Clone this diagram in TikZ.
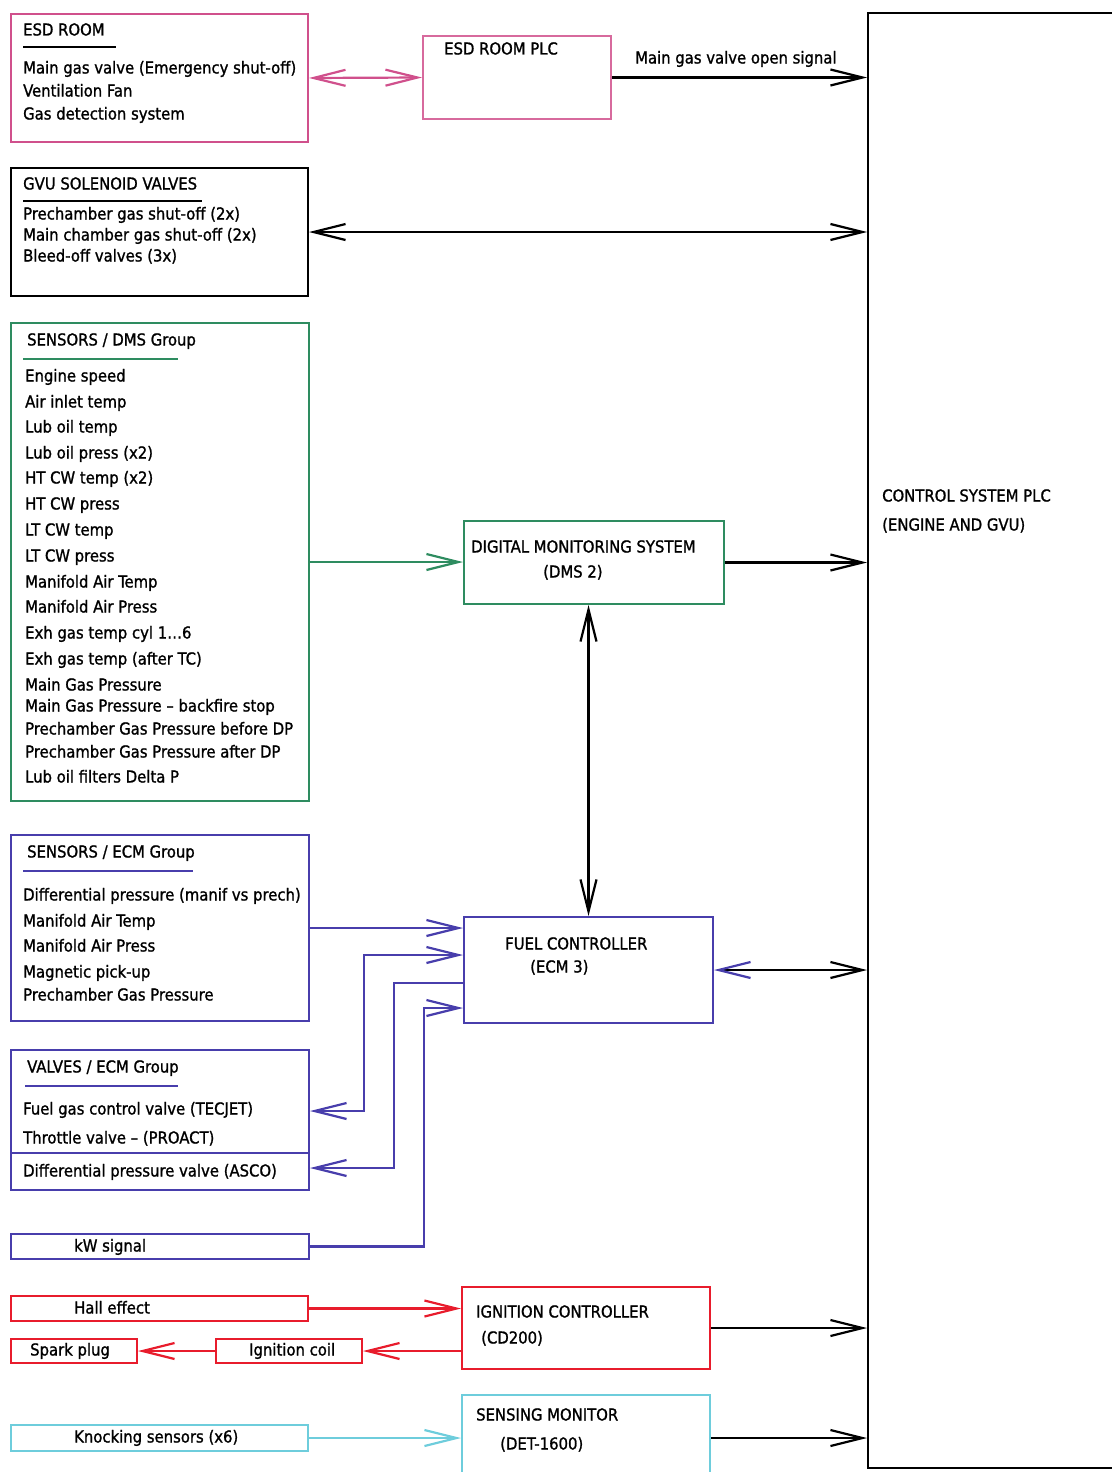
\documentclass[tikz,border=0pt]{standalone}
\usepackage{fontspec}
\setmainfont{DejaVu Sans Condensed}[FakeBold=1.2]
\usetikzlibrary{arrows.meta,calc}
\definecolor{esdc}{RGB}{208,80,140}
\definecolor{dmsc}{RGB}{46,140,96}
\definecolor{ecmc}{RGB}{72,62,172}
\definecolor{ignc}{RGB}{232,28,44}
\definecolor{knc}{RGB}{110,205,220}
\tikzset{
  bb/.tip={Straight Barb[length=32pt,width=16pt]},
  box/.style={draw, line width=2pt, anchor=north west, inner sep=0pt},
  txt/.style={anchor=west, inner sep=0pt, text height=12pt, text depth=3pt, font=\fontsize{16.5}{19}\selectfont},
  conn/.style={line width=2.2pt},
  uline/.style={line width=1.8pt},
}
\begin{document}
\begin{tikzpicture}[x=1pt,y=-1pt]
\useasboundingbox (0,0) rectangle (1111,1472);
% ---------- boxes ----------
\node[box,draw=esdc,minimum width=297pt,minimum height=128pt] (esd) at (10,13) {};
\node[box,draw=esdc!85,minimum width=188pt,minimum height=83pt] (plc) at (422,35) {};
\node[box,minimum width=297pt,minimum height=128pt] (gvu) at (10,167) {};
\node[box,draw=dmsc,minimum width=298pt,minimum height=478pt] (sdms) at (10,322) {};
\node[box,draw=dmsc,minimum width=260pt,minimum height=83pt] (dms) at (463,520) {};
\node[box,draw=ecmc,minimum width=298pt,minimum height=186pt] (secm) at (10,834) {};
\node[box,draw=ecmc,minimum width=249pt,minimum height=106pt] (fuel) at (463,916) {};
\node[box,draw=ecmc,minimum width=298pt,minimum height=140pt] (valves) at (10,1049) {};
\node[box,draw=ecmc,minimum width=298pt,minimum height=25pt] (kw) at (10,1233) {};
\node[box,draw=ignc,minimum width=297pt,minimum height=25pt] (hall) at (10,1295) {};
\node[box,draw=ignc,minimum width=248pt,minimum height=82pt] (ign) at (461,1286) {};
\node[box,draw=ignc,minimum width=126pt,minimum height=24pt] (spark) at (10,1338) {};
\node[box,draw=ignc,minimum width=146pt,minimum height=24pt] (coil) at (215,1338) {};
\node[box,draw=knc,minimum width=297pt,minimum height=26pt] (knock) at (10,1424) {};
\node[box,draw=knc,minimum width=248pt,minimum height=86pt] (sens) at (461,1394) {};
\node[box,minimum width=248pt,minimum height=1455pt] (ctrl) at (867,12) {};
\draw[conn,draw=ecmc] (valves.west |- 0,1153) -- (valves.east |- 0,1153);
% ---------- texts ----------
\node[txt] (esdt) at (23,31) {ESD ROOM};
\draw[uline] (23,47) -- (116,47);
\node[txt] (esd1) at (23,69) {Main gas valve (Emergency shut-off)};
\node[txt] (esd2) at (23,92) {Ventilation Fan};
\node[txt] (esd3) at (23,115) {Gas detection system};
\node[txt] (plct) at (444,50) {ESD ROOM PLC};
\node[txt] (sig) at (635,59) {Main gas valve open signal};
\node[txt] (gvut) at (23,185) {GVU SOLENOID VALVES};
\draw[uline] (23,201) -- (202,201);
\node[txt] (gvu1) at (23,215) {Prechamber gas shut-off (2x)};
\node[txt] (gvu2) at (23,236) {Main chamber gas shut-off (2x)};
\node[txt] (gvu3) at (23,257) {Bleed-off valves (3x)};
\node[txt] (sdmst) at (27,341) {SENSORS / DMS Group};
\draw[uline,draw=dmsc] (23,359) -- (178,359);
\foreach \t/\yy [count=\i] in {Engine speed/377, Air inlet temp/403, Lub oil temp/428,
  Lub oil press (x2)/454, HT CW temp (x2)/479, HT CW press/505, LT CW temp/531,
  LT CW press/557, Manifold Air Temp/583, Manifold Air Press/608,
  Exh gas temp cyl 1…6/634, Exh gas temp (after TC)/660, Main Gas Pressure/686,
  Main Gas Pressure – backfire stop/707, Prechamber Gas Pressure before DP/730,
  Prechamber Gas Pressure after DP/753, Lub oil filters Delta P/778}
  {\node[txt] (sd\i) at (25,\yy) {\t};}
\node[txt] (dmst1) at (471,548) {DIGITAL MONITORING SYSTEM};
\node[txt] (dmst2) at (543,573) {(DMS 2)};
\node[txt] (ctrlt1) at (882,497) {CONTROL SYSTEM PLC};
\node[txt] (ctrlt2) at (882,526) {(ENGINE AND GVU)};
\node[txt] (secmt) at (27,853) {SENSORS / ECM Group};
\draw[uline,draw=ecmc] (23,871) -- (193,871);
\foreach \t/\yy [count=\i] in {Differential pressure (manif vs prech)/896,
  Manifold Air Temp/922, Manifold Air Press/947, Magnetic pick-up/973,
  Prechamber Gas Pressure/996}
  {\node[txt] (se\i) at (23,\yy) {\t};}
\node[txt] (fuelt1) at (505,945) {FUEL CONTROLLER};
\node[txt] (fuelt2) at (530,968) {(ECM 3)};
\node[txt] (valt) at (27,1068) {VALVES / ECM Group};
\draw[uline,draw=ecmc] (25,1086) -- (178,1086);
\node[txt] (val1) at (23,1110) {Fuel gas control valve (TECJET)};
\node[txt] (val2) at (23,1139) {Throttle valve – (PROACT)};
\node[txt] (val3) at (23,1172) {Differential pressure valve (ASCO)};
\node[txt] (kwt) at (74,1247) {kW signal};
\node[txt] (hallt) at (74,1309) {Hall effect};
\node[txt] (ignt1) at (476,1313) {IGNITION CONTROLLER};
\node[txt] (ignt2) at (481,1339) {(CD200)};
\node[txt] (sparkt) at (30,1351) {Spark plug};
\node[txt] (coilt) at (249,1351) {Ignition coil};
\node[txt] (knockt) at (74,1438) {Knocking sensors (x6)};
\node[txt] (senst1) at (476,1416) {SENSING MONITOR};
\node[txt] (senst2) at (500,1445) {(DET-1600)};
% ---------- connectors ----------
\draw[conn,draw=esdc,bb-bb] (esd.east) -- (plc.west);
\draw[conn,-bb] (plc.east) -- (plc.east -| ctrl.west);
\draw[conn,bb-bb] (gvu.east) -- (gvu.east -| ctrl.west);
\draw[conn,draw=dmsc,-bb] (sdms.east) -- (sdms.east -| dms.west);
\draw[conn,-bb] (dms.east) -- (dms.east -| ctrl.west);
\draw[conn,bb-bb] (fuel.north |- dms.south) -- (fuel.north);
\draw[conn,draw=ecmc,-bb] (secm.east) -- (secm.east -| fuel.west);
\draw[conn,draw=ecmc,bb-bb] (valves.east |- 0,1111) -- ++(54,0) |- (fuel.west |- 0,955);
\draw[conn,draw=ecmc,bb-] (valves.east |- 0,1168) -- ++(84,0) |- (fuel.west |- 0,983);
\draw[conn,draw=ecmc,-bb] (kw.east) -- ++(114,0) |- (fuel.west |- 0,1008);
\draw[conn,{bb[color=ecmc]}-bb] (fuel.east) -- (fuel.east -| ctrl.west);
\draw[conn,draw=ignc,-bb] (hall.east) -- (hall.east -| ign.west);
\draw[conn,draw=ignc,-bb] (ign.west |- coil.east) -- (coil.east);
\draw[conn,draw=ignc,-bb] (coil.west) -- (spark.east);
\draw[conn,-bb] (ign.east) -- (ign.east -| ctrl.west);
\draw[conn,draw=knc,-bb] (knock.east) -- (knock.east -| sens.west);
\draw[conn,-bb] (sens.east |- knock.east) -- (ctrl.west |- knock.east);
\end{tikzpicture}
\end{document}
